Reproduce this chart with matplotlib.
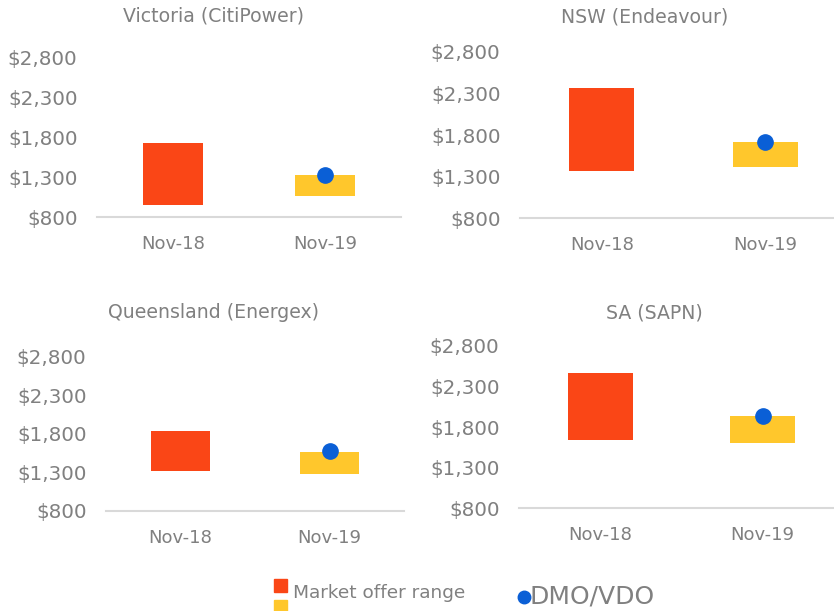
import matplotlib
matplotlib.use("Agg")
import matplotlib.pyplot as plt
from matplotlib.patches import Rectangle
from matplotlib.lines import Line2D

# retail offer ranges by region ($/yr)
regions = ["Victoria (CitiPower)", "NSW (Endeavour)", "Queensland (Energex)", "SA (SAPN)"]
periods = ["Nov-18", "Nov-19"]
low_18 = [955, 1370, 1320, 1640]
high_18 = [1730, 2365, 1840, 2470]
low_19 = [1070, 1420, 1280, 1610]
high_19 = [1330, 1715, 1565, 1940]
dmo = [1330, 1710, 1570, 1935]
yticks = [800, 1300, 1800, 2300, 2800]

RED = "#FA4616"
YELLOW = "#FFC72C"
BLUE = "#0A5FD6"
GREY = "#808080"
LINE = "#D9D9D9"

W, H = 834, 611
fig = plt.figure(figsize=(W / 100, H / 100), dpi=100)
plt.rcParams["font.family"] = "DejaVu Sans"

# pixel layout of each panel: left, axis-line y, width, height, title x, title y
layout = [
    (97, 217, 304, 159, 213, 16),
    (520, 218.3, 327, 166.6, 645, 17),
    (106, 510.5, 298, 153.8, 213, 312),
    (519, 508.3, 325, 162.3, 654, 313),
]

for i, (left, ybase, w, h, tx, ty) in enumerate(layout):
    ax = fig.add_axes([left / W, 1 - ybase / H, w / W, h / H])
    x = range(len(periods))
    lows = [low_18[i], low_19[i]]
    highs = [high_18[i], high_19[i]]
    heights = [hi - lo for lo, hi in zip(lows, highs)]
    ax.bar(x, heights, bottom=lows, width=0.4, color=[RED, YELLOW], zorder=2)
    ax.plot([1], [dmo[i]], "o", color=BLUE, markersize=11, zorder=3)
    ax.set_xlim(-0.5, 1.5)
    ax.set_ylim(800, 2800)
    ax.set_xticks(list(x))
    ax.set_xticklabels(periods)
    ax.set_yticks(yticks)
    ax.set_yticklabels(["${:,}".format(v) for v in yticks])
    for s in ["top", "right", "left"]:
        ax.spines[s].set_visible(False)
    ax.spines["bottom"].set_color(LINE)
    ax.spines["bottom"].set_linewidth(1.5)
    ax.tick_params(axis="both", length=0, colors=GREY)
    ax.tick_params(axis="x", pad=13, labelsize=13)
    ax.tick_params(axis="y", pad=14, labelsize=14.3)
    ax.patch.set_alpha(0)
    fig.text(tx / W, 1 - ty / H, regions[i], ha="center", va="center",
             fontsize=13.6, color=GREY)

# legend drawn along the bottom edge
fig.add_artist(Rectangle((274 / W, 1 - 592 / H), 13 / W, 13.5 / H,
                         color=RED, transform=fig.transFigure))
fig.add_artist(Rectangle((274 / W, 1 - 614 / H), 13 / W, 14 / H,
                         color=YELLOW, transform=fig.transFigure))
fig.text(293 / W, 1 - 593 / H, "Market offer range", ha="left", va="center",
         fontsize=13.3, color=GREY)
fig.add_artist(Line2D([523.5 / W], [1 - 597 / H], marker="o", markersize=9,
                      color=BLUE, linestyle="none", transform=fig.transFigure))
fig.text(529 / W, 1 - 596 / H, "DMO/VDO", ha="left", va="center",
         fontsize=18, color=GREY)

fig.savefig("out.png", dpi=100, facecolor="white")
